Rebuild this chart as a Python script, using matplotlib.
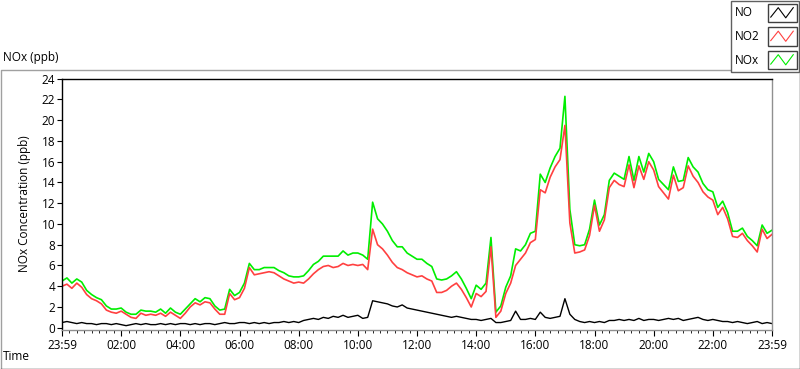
import numpy as np
import matplotlib
matplotlib.use("Agg")
import matplotlib.pyplot as plt
from matplotlib.patches import Rectangle

# minutes after 23:59, one reading every 10 min
minutes = np.arange(0, 1441, 10)

no2 = [4.0, 4.2, 3.8, 4.3, 3.9, 3.2, 2.8, 2.6, 2.3, 1.7,
       1.5, 1.4, 1.6, 1.3, 1.0, 0.9, 1.4, 1.2, 1.3, 1.2,
       1.4, 1.1, 1.5, 1.2, 0.9, 1.4, 2.0, 2.4, 2.2, 2.5,
       2.4, 1.8, 1.3, 1.3, 3.3, 2.7, 2.9, 3.8, 5.8, 5.1,
       5.2, 5.3, 5.4, 5.3, 5.0, 4.7, 4.5, 4.3, 4.4, 4.3,
       4.7, 5.2, 5.6, 5.9, 6.0, 5.8, 5.9, 6.2, 6.0, 6.1,
       6.0, 6.1, 5.6, 9.5, 8.0, 7.6, 7.0, 6.3, 5.8, 5.6,
       5.3, 5.1, 4.9, 5.0, 4.7, 4.5, 3.4, 3.4, 3.6, 4.0,
       4.3, 3.7, 2.9, 2.0, 3.3, 3.0, 3.5, 7.8, 1.0, 1.6,
       3.3, 4.3, 6.0, 6.6, 7.2, 8.2, 8.5, 13.3, 13.0, 14.5,
       15.5, 16.2, 19.5, 10.1, 7.2, 7.3, 7.5, 8.9, 11.8, 9.3,
       10.4, 13.5, 14.2, 13.8, 13.6, 15.7, 13.5, 15.6, 14.3, 16.0,
       15.2, 13.6, 13.0, 12.4, 14.7, 13.2, 13.5, 15.6, 14.6, 14.0,
       13.1, 12.6, 12.3, 10.9, 11.6, 10.5, 8.8, 8.7, 9.1, 8.4,
       7.9, 7.3, 9.5, 8.6, 9.0]

no = [0.5, 0.6, 0.5, 0.4, 0.5, 0.4, 0.4, 0.3, 0.4, 0.4,
      0.3, 0.4, 0.3, 0.2, 0.3, 0.4, 0.3, 0.4, 0.3, 0.3,
      0.4, 0.3, 0.4, 0.3, 0.4, 0.4, 0.3, 0.4, 0.3, 0.4,
      0.4, 0.3, 0.4, 0.5, 0.4, 0.4, 0.5, 0.5, 0.4, 0.5,
      0.4, 0.5, 0.4, 0.5, 0.5, 0.6, 0.5, 0.6, 0.5, 0.7,
      0.8, 0.9, 0.8, 1.0, 0.9, 1.1, 1.0, 1.2, 1.0, 1.1,
      1.2, 0.9, 1.0, 2.6, 2.5, 2.4, 2.3, 2.1, 2.0, 2.2,
      1.9, 1.8, 1.7, 1.6, 1.5, 1.4, 1.3, 1.2, 1.1, 1.0,
      1.1, 1.0, 0.9, 0.8, 0.8, 0.7, 0.8, 0.9, 0.5, 0.5,
      0.6, 0.7, 1.6, 0.8, 0.8, 0.9, 0.8, 1.5, 1.0, 0.9,
      1.0, 1.1, 2.8, 1.3, 0.8, 0.6, 0.5, 0.6, 0.5, 0.6,
      0.5, 0.7, 0.7, 0.8, 0.7, 0.8, 0.7, 0.9, 0.7, 0.8,
      0.8, 0.7, 0.8, 0.9, 0.8, 0.9, 0.7, 0.8, 0.9, 1.0,
      0.8, 0.7, 0.8, 0.7, 0.6, 0.6, 0.5, 0.6, 0.5, 0.4,
      0.5, 0.6, 0.4, 0.5, 0.4]

# NOx is the sum of NO and NO2
nox = np.array(no) + np.array(no2)

series_names = ["NO", "NO2", "NOx"]
series_colors = ["#000000", "#ff4040", "#00ee00"]

tick_minutes = np.arange(0, 1441, 120)
tick_labels = ["23:59", "02:00", "04:00", "06:00", "08:00", "10:00", "12:00",
               "14:00", "16:00", "18:00", "20:00", "22:00", "23:59"]

plt.rcParams["font.family"] = ["Open Sans", "DejaVu Sans"]
W, H = 800, 369
fig = plt.figure(figsize=(W / 100, H / 100), dpi=100)

# background layer in pixel coordinates: frame and legend box
bg = fig.add_axes([0, 0, 1, 1])
bg.set_xlim(0, W)
bg.set_ylim(H, 0)
bg.axis("off")
bg.plot([0.5, 0.5, 799.5], [368.5, 69.5, 69.5], color="#a0a0a0", lw=1)
bg.plot([0.5, 799.5, 799.5], [368.5, 368.5, 69.5], color="#303030", lw=1)
bg.add_patch(Rectangle((730.5, 0.5), 68.5, 71.5, facecolor="white",
                       edgecolor="#606060", lw=1, zorder=3))
zig_x = np.array([0.05, 0.35, 0.65, 0.95])
zig_y = np.array([0.8, 0.15, 0.85, 0.15])
for k, (name, col) in enumerate(zip(series_names, series_colors)):
    top = 3.5 + k * 23.5
    bg.text(735, top + 9.5, name, fontsize=8.5, va="center", ha="left", zorder=4)
    bg.add_patch(Rectangle((767.5, top), 29, 18.5, facecolor="white",
                           edgecolor="#404040", lw=1, zorder=4))
    bg.plot(767.5 + 2 + zig_x * 25, top + 2 + zig_y * 14.5, color=col, lw=0.8, zorder=5)

fig.text(3 / W, 1 - 58 / H, "NOx (ppb)", fontsize=8.5, va="center", ha="left")
fig.text(3 / W, 1 - 357 / H, "Time", fontsize=8.5, va="center", ha="left")

ax = fig.add_axes([62 / W, (H - 329.5) / H, 710 / W, (329.5 - 78.7) / H])
ax.plot(minutes, nox, color=series_colors[2], lw=1.2)
ax.plot(minutes, no2, color=series_colors[1], lw=1.2)
ax.plot(minutes, no, color=series_colors[0], lw=1.0)

ax.set_xlim(0, 1440)
ax.set_ylim(-0.17, 24)
ax.set_yticks(np.arange(0, 25, 2))
ax.set_xticks(tick_minutes)
ax.set_xticklabels(tick_labels)
ax.set_xticks(np.arange(0, 1441, 15), minor=True)
ax.tick_params(axis="both", labelsize=8.5, direction="out", width=0.8)
ax.tick_params(axis="x", which="major", length=4.5, pad=2)
ax.tick_params(axis="x", which="minor", length=2.5)
ax.tick_params(axis="y", length=3.5, pad=1.5)
ax.set_ylabel("NOx Concentration (ppb)", fontsize=8.5)
ax.yaxis.set_label_coords(-(62 - 31) / 710, 0.5)

ax.spines["left"].set_color("black")
ax.spines["top"].set_color("black")
ax.spines["right"].set_color("#909090")
ax.spines["bottom"].set_color("#909090")
for s in ax.spines.values():
    s.set_linewidth(1)

fig.savefig("out.png", dpi=100)
